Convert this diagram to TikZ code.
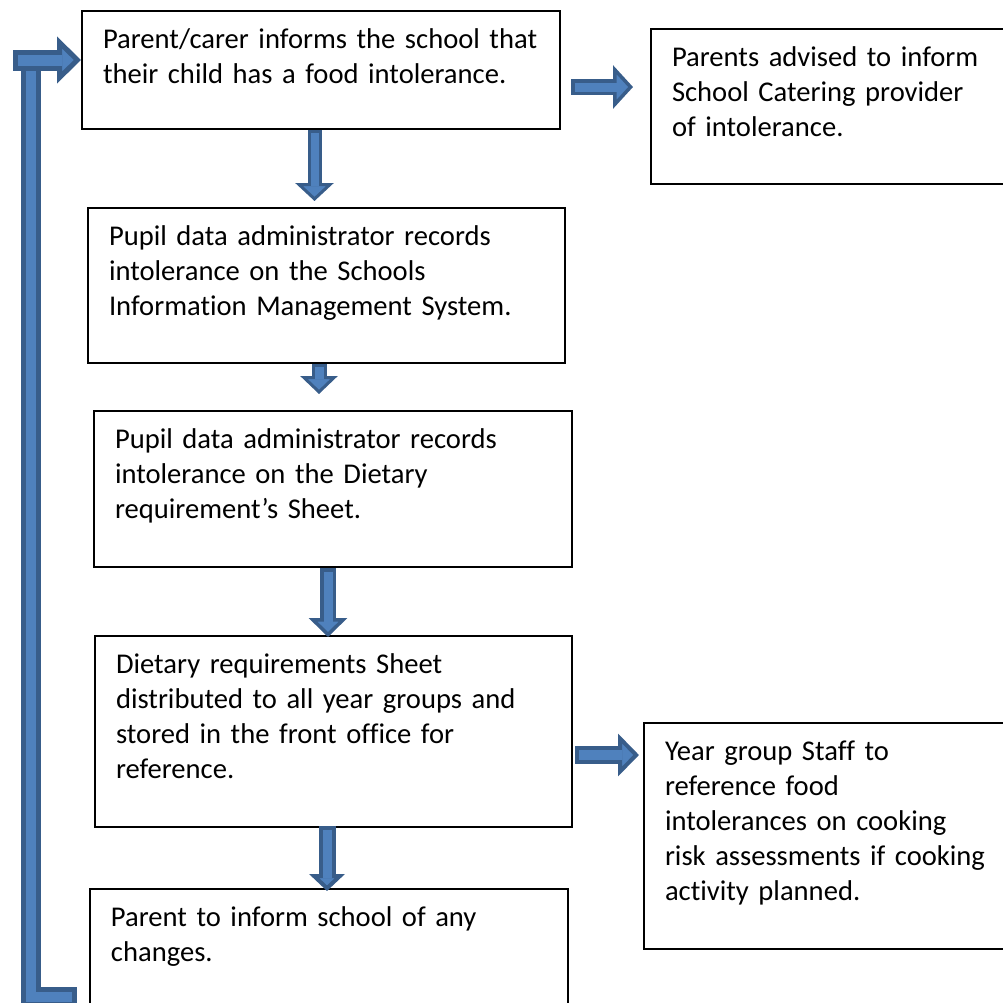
\documentclass[tikz,border=0pt]{standalone}
\usepackage{fontspec}
\setmainfont{Carlito}[Ligatures=NoCommon]
\usetikzlibrary{arrows.meta,calc}
\definecolor{arrowblue}{HTML}{4F81BD}
\definecolor{arrowedge}{HTML}{385D8A}
\tikzset{
  box/.style={draw, line width=1pt, anchor=north west, align=left, inner xsep=10.5pt, inner ysep=0pt, text height=18.5pt, font=\fontsize{14.3pt}{17.5pt}\selectfont},
  blockarrow/.style n args={4}{draw=arrowedge, line width=#1, -{Triangle[width=#3, length=#4, line width=#2, fill=arrowblue]}, postaction={draw=arrowblue, -, line width=#1-2*#2, shorten <=#2, shorten >=#4-#2}},
  blockbar/.style n args={2}{draw=arrowedge, line width=#1, postaction={draw=arrowblue, line width=#1-2*#2, shorten <=#2, shorten >=#2}}
}
\begin{document}
\begin{tikzpicture}[x=0.5pt, y=-0.5pt]
\useasboundingbox (0,0) rectangle (1003,1003);
\clip (0,0) rectangle (1003,1003);
\node[box, text width=218pt, text depth=40.5pt] (b1) at (81,10) {Parent/carer informs the school that\\their child has a food intolerance.};
\node[box, text width=164pt, text depth=59pt] (b2) at (650,28) {Parents advised to inform\\School Catering provider\\of intolerance.};
\node[box, text width=217.5pt, text depth=59pt] (b3) at (87,207) {Pupil data administrator records\\intolerance on the Schools\\Information Management System.};
\node[box, text width=218pt, text depth=59.5pt] (b4) at (93,410) {Pupil data administrator records\\intolerance on the Dietary\\requirement’s Sheet.};
\node[box, text width=217.5pt, text depth=77pt] (b5) at (94,635) {Dietary requirements Sheet\\distributed to all year groups and\\stored in the front office for\\reference.};
\node[box, text width=167.5pt, text depth=94.5pt] (b6) at (643,722) {Year group Staff to\\reference food\\intolerances on cooking\\risk assessments if cooking\\activity planned.};
\node[box, text width=218pt, text depth=70pt] (b7) at (89,888) {Parent to inform school of any\\changes.};
\draw[blockarrow={7pt}{1.5pt}{19pt}{9pt}] ($(b1.south)+(-6.5,0)$) -- ($(b1.south |- b3.north)+(-6.5,-6)$);
\draw[blockarrow={7.5pt}{1.5pt}{18.5pt}{9pt}] ($(b3.south)+(-7.5,0)$) -- ($(b3.south |- b4.north)+(-7.5,-16)$);
\draw[blockarrow={8pt}{1.75pt}{19pt}{9.5pt}] ($(b4.south)+(-5,0)$) -- ($(b4.south |- b5.north)+(-5,2)$);
\draw[blockarrow={8.5pt}{2pt}{17.5pt}{8.5pt}] ($(b5.south)+(-6.5,-2)$) -- ($(b5.south |- b7.north)+(-6.5,3)$);
\draw[blockarrow={8pt}{1.75pt}{21.5pt}{10pt}] ($(b1.east |- 0,87)+(10,0)$) -- ($(b2.west |- 0,87)+(-17,0)$);
\draw[blockarrow={9pt}{2pt}{21pt}{10.5pt}] ($(b5.east |- 0,755)+(2,0)$) -- ($(b6.west |- 0,755)+(-4,0)$);
\coordinate (loopend) at (77,997);
\coordinate (loopstart) at (13,60);
\draw[blockbar={10pt}{2.5pt}] (loopend) -- (30.5,997) -- (30.5,55);
\draw[blockarrow={10.5pt}{2.5pt}{23pt}{12pt}] (loopstart) -- (loopstart -| b1.west);
\end{tikzpicture}
\end{document}
